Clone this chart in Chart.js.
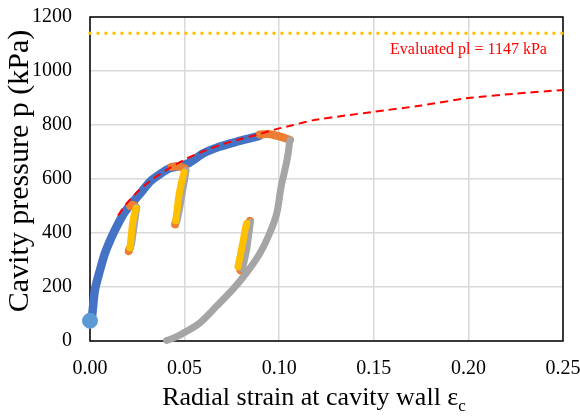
<!DOCTYPE html>
<html><head><meta charset="utf-8">
<script src="https://cdn.jsdelivr.net/npm/chart.js@4.4.0/dist/chart.umd.min.js"></script>
<style>html,body{margin:0;padding:0;background:#fff}</style>
</head><body>
<canvas id="c" width="580" height="416"></canvas>
<script>
// ---- data ----
const xTicks = [0, 0.05, 0.10, 0.15, 0.20, 0.25];
const yTicks = [0, 200, 400, 600, 800, 1000, 1200];

const startStrain = [0.000];
const startPressure = [75];

const loadStrain   = [0.000, 0.0009, 0.0026, 0.0053, 0.0079, 0.0115, 0.0150, 0.0185, 0.0220, 0.0264, 0.0317, 0.0370, 0.0423, 0.0470, 0.0520, 0.0600, 0.0687, 0.0775, 0.0880, 0.0900];
const loadPressure = [75, 84, 189, 263, 325, 386, 436, 479, 510, 545, 590, 618, 640, 648, 658, 695, 720, 738, 757, 762];

// holding / unloading start segments (orange)
const hold1Strain = [0.0212, 0.0225, 0.0237];  const hold1Pressure = [500, 505, 500];
const hold2Strain = [0.0205, 0.0209];          const hold2Pressure = [333, 342];
const hold3Strain = [0.0432, 0.0465, 0.0500];  const hold3Pressure = [645, 647, 640];
const hold4Strain = [0.0450, 0.0453];          const hold4Pressure = [432, 442];
const hold5Strain = [0.0898, 0.0940, 0.0970, 0.1010, 0.1057]; const hold5Pressure = [765, 767, 763, 756, 744];
const hold6Strain = [0.0795, 0.0808];          const hold6Pressure = [262, 268];
const hold7Strain = [0.0838, 0.0845];          const hold7Pressure = [436, 445];

// unloading (grey)
const unload1Strain = [0.0247, 0.0238, 0.0228, 0.0220, 0.0214];
const unload1Pressure = [495, 450, 400, 360, 345];
const unload2Strain = [0.0508, 0.0497, 0.0484, 0.0472, 0.0460];
const unload2Pressure = [632, 585, 535, 485, 445];
const unload3Strain = [0.1057, 0.1053, 0.1045, 0.1030, 0.1010, 0.0987, 0.0950, 0.0898, 0.0828, 0.0757, 0.0670, 0.0580, 0.0490, 0.0430, 0.0405];
const unload3Pressure = [744, 726, 685, 633, 571, 473, 400, 325, 253, 193, 130, 67, 28, 8, 2];
const unload4Strain = [0.0848, 0.0838, 0.0828, 0.0815, 0.0805];
const unload4Pressure = [440, 390, 340, 295, 268];

// reloading (yellow)
const reload1Strain = [0.0211, 0.0218, 0.0226, 0.0235, 0.0243];
const reload1Pressure = [345, 390, 440, 470, 491];
const reload2Strain = [0.0453, 0.0461, 0.0469, 0.0481, 0.0497];
const reload2Pressure = [445, 490, 535, 580, 625];
const reload3Strain = [0.0782, 0.0795, 0.0808, 0.0818, 0.0828];
const reload3Pressure = [275, 320, 365, 405, 436];

// fitted curve (red dashed)
const fitStrain   = [0.0148, 0.0194, 0.026, 0.0335, 0.042, 0.0511, 0.060, 0.0687, 0.078, 0.088, 0.0975, 0.1075, 0.118, 0.135, 0.150, 0.175, 0.200, 0.225, 0.250];
const fitPressure = [465, 510, 559, 602, 640, 676, 703, 726, 745, 763, 783, 800, 818, 835, 849, 872, 900, 916, 930];

// evaluated limit pressure (yellow dotted)
const plStrain = [0, 0.25];
const plPressure = [1140, 1140];
const plLabel = 'Evaluated pl = 1147 kPa';

const xTitle = 'Radial strain at cavity wall ε';
const xTitleSub = 'c';
const yTitle = 'Cavity pressure p (kPa)';

// ---- build ----
const SERIF = '"Liberation Serif", "Times New Roman", serif';
const pts = (xs, ys) => xs.map((x, i) => ({x: x, y: ys[i]}));
const line = (xs, ys, color, width, order, extra) => Object.assign({
  data: pts(xs, ys), showLine: true, borderColor: color, backgroundColor: color,
  borderWidth: width, pointRadius: 0, pointHoverRadius: 0, tension: 0.3,
  borderCapStyle: 'round', borderJoinStyle: 'round', clip: false, order: order
}, extra || {});

const BLUE = '#4472C4', ORANGE = '#ED7D31', GREY = '#A5A5A5', YELLOW = '#FFC000';

const datasets = [
  line(fitStrain, fitPressure, '#FF0000', 2, 0, {borderDash: [8, 5], borderCapStyle: 'butt', tension: 0.2}),
  line(plStrain, plPressure, YELLOW, 3.5, 1, {borderDash: [0, 8], tension: 0}),
  {data: pts(startStrain, startPressure), showLine: false, pointRadius: 7.5, pointHoverRadius: 7.5,
   pointBackgroundColor: '#5B9BD5', pointBorderColor: '#5B9BD5', clip: false, order: 2},
  line(reload1Strain, reload1Pressure, YELLOW, 7, 3),
  line(reload2Strain, reload2Pressure, YELLOW, 7, 3),
  line(reload3Strain, reload3Pressure, YELLOW, 7, 3),
  line(unload1Strain, unload1Pressure, GREY, 7, 4),
  line(unload2Strain, unload2Pressure, GREY, 7, 4),
  line(unload3Strain, unload3Pressure, GREY, 7, 4),
  line(unload4Strain, unload4Pressure, GREY, 7, 4),
  line(hold1Strain, hold1Pressure, ORANGE, 8, 5),
  line(hold2Strain, hold2Pressure, ORANGE, 8, 5),
  line(hold3Strain, hold3Pressure, ORANGE, 8, 5),
  line(hold4Strain, hold4Pressure, ORANGE, 8, 5),
  line(hold5Strain, hold5Pressure, ORANGE, 8, 5),
  line(hold6Strain, hold6Pressure, ORANGE, 8, 5),
  line(hold7Strain, hold7Pressure, ORANGE, 8, 5),
  line(loadStrain, loadPressure, BLUE, 8.5, 6)
];

const zeroPad = s => { s.paddingTop = 0; s.paddingBottom = 0; s.paddingLeft = 0; s.paddingRight = 0; };

const framePlugin = {
  id: 'frame',
  beforeDatasetsDraw(chart) {
    const {ctx, chartArea: a} = chart;
    ctx.save();
    ctx.strokeStyle = '#000';
    ctx.lineWidth = 1.5;
    ctx.strokeRect(a.left, a.top, a.right - a.left, a.bottom - a.top);
    ctx.restore();
  },
  afterDraw(chart) {
    const {ctx, scales} = chart;
    ctx.save();
    // annotation
    ctx.fillStyle = '#FF0000';
    ctx.font = '16px ' + SERIF;
    ctx.textAlign = 'right';
    ctx.textBaseline = 'alphabetic';
    ctx.fillText(plLabel, scales.x.getPixelForValue(0.2415), scales.y.getPixelForValue(1063));
    // x-axis title with subscript c
    ctx.fillStyle = '#000';
    ctx.textAlign = 'left';
    ctx.font = '26px ' + SERIF;
    const w1 = ctx.measureText(xTitle).width;
    ctx.font = '17px ' + SERIF;
    const w2 = ctx.measureText(xTitleSub).width;
    const x0 = 314 - (w1 + w2) / 2;
    ctx.font = '26px ' + SERIF;
    ctx.fillText(xTitle, x0, 405);
    ctx.font = '17px ' + SERIF;
    ctx.fillText(xTitleSub, x0 + w1, 411);
    // y-axis title
    ctx.translate(20, 171);
    ctx.rotate(-Math.PI / 2);
    ctx.font = '30px ' + SERIF;
    ctx.textAlign = 'center';
    ctx.textBaseline = 'middle';
    ctx.fillText(yTitle, 0, 0);
    ctx.restore();
  }
};

new Chart(document.getElementById('c'), {
  type: 'scatter',
  data: {datasets: datasets},
  options: {
    responsive: false,
    animation: false,
    events: [],
    layout: {autoPadding: false, padding: {top: 17, right: 17, left: 0, bottom: 0}},
    plugins: {legend: {display: false}, tooltip: {enabled: false}},
    scales: {
      x: {
        type: 'linear', min: 0, max: 0.25,
        afterBuildTicks: s => { s.ticks = xTicks.map(v => ({value: v})); },
        afterFit: s => { s.height = 75; zeroPad(s); },
        ticks: {font: {family: SERIF, size: 20}, color: '#000', padding: 16,
                callback: v => Number(v).toFixed(2), maxRotation: 0},
        grid: {color: '#D9D9D9', lineWidth: 1.5, drawTicks: false},
        border: {display: false}
      },
      y: {
        type: 'linear', min: 0, max: 1200,
        afterBuildTicks: s => { s.ticks = yTicks.map(v => ({value: v})); },
        afterFit: s => { s.width = 90; zeroPad(s); },
        ticks: {font: {family: SERIF, size: 20}, color: '#000', padding: 18,
                callback: v => String(v)},
        grid: {color: '#D9D9D9', lineWidth: 1.5, drawTicks: false},
        border: {display: false}
      }
    }
  },
  plugins: [framePlugin]
});
</script></body></html>
